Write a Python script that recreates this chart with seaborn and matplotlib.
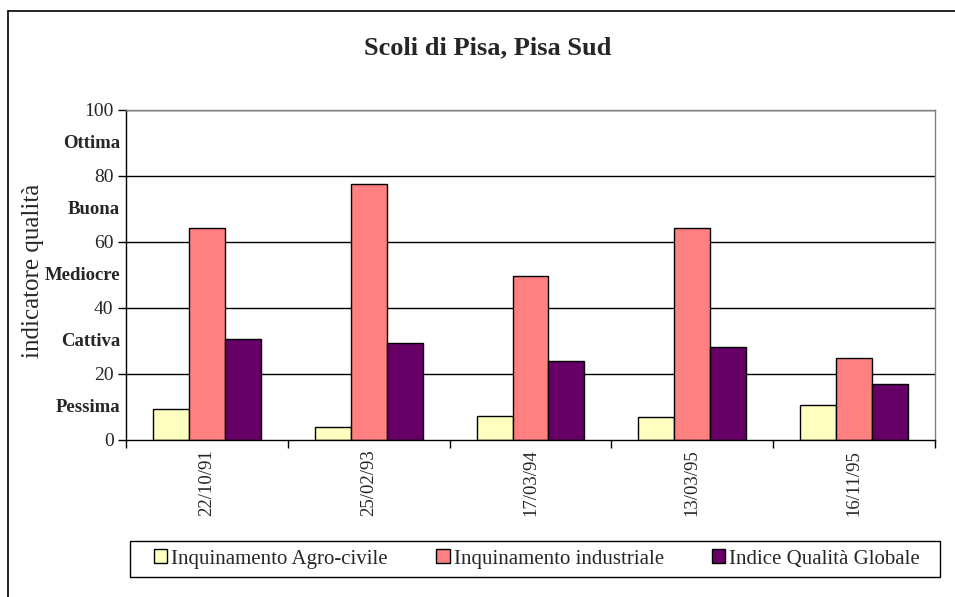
import matplotlib
matplotlib.use("Agg")
import matplotlib.pyplot as plt
import seaborn as sns
import pandas as pd
from matplotlib.patches import Patch, Rectangle
from matplotlib.lines import Line2D
import matplotlib.transforms as mtransforms

dates = ["22/10/91", "25/02/93", "17/03/94", "13/03/95", "16/11/95"]
series = ["Inquinamento Agro-civile", "Inquinamento industriale", "Indice Qualità Globale"]
agro = [9.4, 4.0, 7.4, 6.9, 10.5]
industriale = [64.2, 77.7, 49.8, 64.2, 24.8]
globale = [30.7, 29.4, 23.9, 28.3, 16.9]
colors = ["#FFFFC0", "#FF8080", "#660066"]
quality_labels = ["Pessima", "Cattiva", "Mediocre", "Buona", "Ottima"]
quality_pos = [10, 30, 50, 70, 90]
yticks = [0, 20, 40, 60, 80, 100]

rows = []
for s, vals in zip(series, [agro, industriale, globale]):
    for d, v in zip(dates, vals):
        rows.append({"data": d, "serie": s, "valore": v})
df = pd.DataFrame(rows)

sns.set_theme(style="white")
plt.rcParams["font.family"] = ["Liberation Serif", "DejaVu Serif"]

W, H = 955, 597
fig = plt.figure(figsize=(W / 100, H / 100), dpi=100)
ax = fig.add_axes([126 / W, 1 - 440 / H, (935 - 126) / W, (440 - 110) / H])

sns.barplot(data=df, x="data", y="valore", hue="serie", order=dates, hue_order=series,
            palette=colors, width=0.667, edgecolor="black", linewidth=1.0,
            saturation=1, legend=False, ax=ax)

ax.set_xlim(-0.5, len(dates) - 0.5)
ax.set_ylim(0, 100)
ax.set_yticks(yticks)
ax.set_yticklabels([str(t) for t in yticks], fontsize=14)
for t in yticks[1:]:
    ax.axhline(t, color="black", lw=1.0, zorder=0.5)

# x ticks
ax.set_xticks(range(len(dates)))
ax.set_xticklabels(dates, rotation=90, fontsize=13.5, va="top")
ax.tick_params(axis="x", which="major", length=0, pad=7)
ax.set_xticks([i - 0.5 for i in range(len(dates) + 1)], minor=True)
ax.tick_params(axis="x", which="minor", length=6, width=1, color="black", direction="out", bottom=True)
ax.tick_params(axis="y", which="major", length=6, width=1, color="black", direction="out", left=True, pad=3)
ax.set_xlabel("")
ax.set_ylabel("")

for side in ["left", "bottom"]:
    ax.spines[side].set_color("black")
    ax.spines[side].set_linewidth(1.0)
for side in ["right", "top"]:
    ax.spines[side].set_color("#808080")
    ax.spines[side].set_linewidth(1.0)

fig.text(33 / W, 1 - 271 / H, "indicatore qualità", rotation=90, ha="center", va="center",
         fontsize=18)

# quality labels
trans = mtransforms.blended_transform_factory(fig.transFigure, ax.transData)
for lab, pos in zip(quality_labels, quality_pos):
    fig.text(120 / W, pos, lab, transform=trans, ha="right", va="center",
             fontsize=13.5, fontweight="bold")

fig.text(487.5 / W, 1 - 48 / H, "Scoli di Pisa, Pisa Sud", ha="center", va="center",
         fontsize=19, fontweight="bold")

# chart frame (left and top edges visible)
fig.add_artist(Line2D([8 / W, 8 / W], [0, 1 - 11 / H], transform=fig.transFigure, color="black", lw=1.2))
fig.add_artist(Line2D([8 / W, 1], [1 - 11 / H, 1 - 11 / H], transform=fig.transFigure, color="black", lw=1.2))

# legend
fig.add_artist(Rectangle((130 / W, 1 - 577 / H), (940 - 130) / W, 36 / H, transform=fig.transFigure,
                         facecolor="white", edgecolor="black", lw=1.0, zorder=2))
handles = [Patch(facecolor=c, edgecolor="black", linewidth=1.0) for c in colors]
leg = fig.legend(handles, series, loc="center", bbox_to_anchor=(537 / W, 1 - 559 / H),
                 ncol=3, fontsize=15, frameon=False, handlelength=0.65,
                 handleheight=0.65, handletextpad=0.2, columnspacing=2.3,
                 borderpad=0.2, borderaxespad=0)
leg.set_zorder(3)

fig.savefig("out.png", dpi=100)
